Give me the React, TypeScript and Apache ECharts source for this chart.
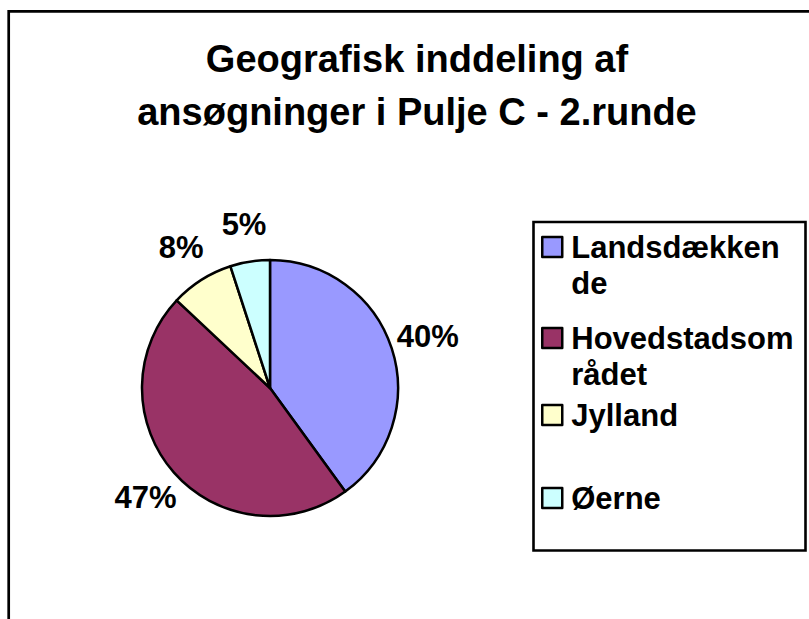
import React, { useEffect, useRef } from "react";
import * as echarts from "echarts";

const titleText = "Geografisk inddeling af\nansøgninger i Pulje C - 2.runde";
const categories = ["Landsdækkende", "Hovedstadsområdet", "Jylland", "Øerne"];
const values = [40, 47, 8, 5];
const legendLines = [["Landsdækken", "de"], ["Hovedstadsom", "rådet"], ["Jylland"], ["Øerne"]];
const colors = ["#9999FF", "#993366", "#FFFFCC", "#CCFFFF"];

const FONT = "'Liberation Sans', Arial, Helvetica, sans-serif";

export default function App() {
  const ref = useRef<HTMLDivElement>(null);
  useEffect(() => {
    if (!ref.current) return;
    const chart = echarts.init(ref.current, null, { renderer: "svg" });
    const data = categories.map((name, i) => ({
      name,
      value: values[i],
      itemStyle: { color: colors[i] },
    }));
    const legendTops = [193, 284, 397, 480];
    const legends = categories.map((name, i) => {
      const lines = legendLines[i];
      const extra = (lines.length - 1) * 36;
      return {
        data: [name],
        orient: "vertical",
        left: 541,
        top: legendTops[i],
        padding: 0,
        icon: "rect",
        itemWidth: 20,
        itemHeight: 20,
        selectedMode: false,
        itemStyle: { borderColor: "#000", borderWidth: 2.5 },
        formatter: () => lines.map((l) => "{t|" + l + "}").join("\n"),
        textStyle: {
          fontFamily: FONT,
          fontSize: 31,
          fontWeight: "bold",
          color: "#000",
          lineHeight: 36,
          padding: [extra, 0, 0, 4],
          rich: {
            t: {
              fontFamily: FONT,
              fontSize: 31,
              fontWeight: "bold",
              color: "#000",
              lineHeight: 36,
            },
          },
        },
      };
    });
    chart.setOption({
      animation: false,
      backgroundColor: "#fff",
      title: {
        text: titleText,
        left: 417,
        top: 32,
        padding: 0,
        textAlign: "center",
        textStyle: {
          fontFamily: FONT,
          fontSize: 38,
          fontWeight: "bold",
          color: "#000",
          lineHeight: 53,
        },
      },
      legend: legends,
      graphic: [
        {
          type: "rect",
          shape: { x: 8.7, y: 11.3, width: 900, height: 800 },
          style: { fill: "none", stroke: "#000", lineWidth: 2.7 },
          silent: true,
        },
        {
          type: "rect",
          shape: { x: 533.5, y: 222, width: 272, height: 328.5 },
          style: { fill: "none", stroke: "#000", lineWidth: 2.6 },
          silent: true,
        },
      ],
      series: [
        {
          type: "pie",
          center: [270, 388],
          radius: 128,
          startAngle: 90,
          clockwise: true,
          data,
          label: { show: false },
          labelLine: { show: false },
          itemStyle: { borderColor: "#000", borderWidth: 2.5 },
          emphasis: { disabled: true },
          silent: true,
        },
        {
          type: "pie",
          center: [270, 388],
          radius: [126, 200],
          startAngle: 90,
          clockwise: true,
          data: categories.map((name, i) => ({ name, value: values[i] })),
          itemStyle: { color: "transparent", borderWidth: 0 },
          label: {
            show: true,
            position: "inside",
            rotate: 0,
            formatter: (p: any) => Math.round(p.percent) + "%",
            fontFamily: FONT,
            fontSize: 31,
            fontWeight: "bold",
            color: "#000",
          },
          labelLine: { show: false },
          emphasis: { disabled: true },
          silent: true,
          legendHoverLink: false,
        },
      ],
    });
    return () => chart.dispose();
  }, []);
  return (
    <div
      ref={ref}
      style={{ position: "absolute", left: 0, top: 0, width: 809, height: 619 }}
    />
  );
}
